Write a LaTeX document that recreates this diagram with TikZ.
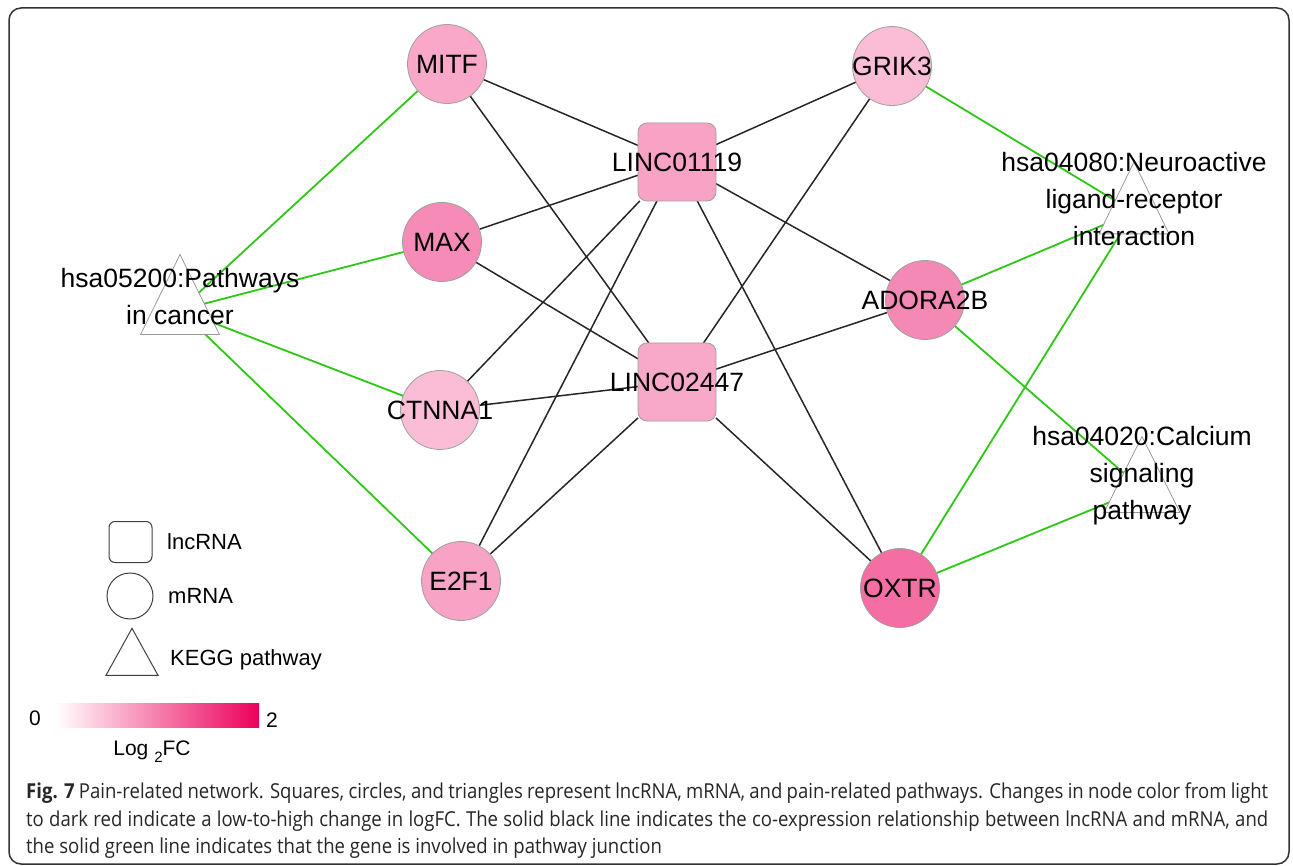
\documentclass[tikz,border=0pt]{standalone}
\usepackage{fontspec}
\setmainfont{Liberation Sans}
\newfontfamily\capfont[FakeStretch=0.9]{Open Sans}
\usetikzlibrary{positioning, shapes.geometric, backgrounds}

\definecolor{linkgreen}{RGB}{45,200,20}
\definecolor{barend}{RGB}{236,0,90}
\definecolor{fillmitf}{RGB}{249,168,201}
\definecolor{fillmax}{RGB}{246,139,183}
\definecolor{fillctnna}{RGB}{250,189,213}
\definecolor{fillefone}{RGB}{248,162,197}
\definecolor{filllone}{RGB}{248,163,198}
\definecolor{flltwo}{RGB}{248,168,201}
\definecolor{fillgrik}{RGB}{251,188,214}
\definecolor{filladora}{RGB}{245,137,182}
\definecolor{filloxtr}{RGB}{244,109,163}

\newcommand\genefont{\fontsize{26.5}{37}\selectfont}
\newcommand\legfont{\fontsize{22}{26}\selectfont}

\begin{document}
\begin{tikzpicture}[x=1pt, y=-1pt,
  gene/.style={circle, draw=gray!75, line width=0.8pt, minimum size=79pt,
    inner sep=0pt, outer sep=0pt, label={[font=\genefont]center:{#1}}},
  lnc/.style={rectangle, rounded corners=9pt, draw=gray!75, line width=0.8pt,
    minimum size=78pt, inner sep=0pt, outer sep=0pt, label={[font=\genefont]center:{#1}}},
  kegg/.style={isosceles triangle, shape border rotate=90, isosceles triangle stretches,
    minimum width=76pt, minimum height=76pt, draw=gray!80, line width=0.8pt,
    inner sep=0pt, outer sep=0pt, label={[font=\genefont, align=center, yshift=13pt]center:{#1}}},
  coexp/.style={draw=black!85, line width=1.5pt},
  inpath/.style={draw=linkgreen, line width=1.8pt},
  legsym/.style={draw=black!75, line width=1pt, inner sep=0pt, outer sep=0pt},
  legtext/.style={font=\legfont, inner sep=0pt, anchor=west},
]
  \useasboundingbox (0,0) rectangle (1293,866);
  % frame
  \draw[black!80, line width=1.5pt, rounded corners=12pt] (9,8) rectangle (1289,864);

  % lncRNA
  \node[lnc={LINC01119}, fill=filllone] (l1119) at (677,162) {};
  \node[lnc={LINC02447}, fill=flltwo] (l2447) at (677,382) {};

  % mRNA
  \node[gene={MITF}, fill=fillmitf] (mitf) at (447,64) {};
  \node[gene={MAX}, fill=fillmax] (maxg) at (442,242) {};
  \node[gene={CTNNA1}, fill=fillctnna] (ctnna) at (440,410) {};
  \node[gene={E2F1}, fill=fillefone] (efone) at (461,581) {};
  \node[gene={GRIK3}, fill=fillgrik] (grik) at (892,66) {};
  \node[gene={ADORA2B}, fill=filladora] (adora) at (925,300) {};
  \node[gene={OXTR}, fill=filloxtr] (oxtr) at (900,588) {};

  % KEGG pathways (centre anchor sits low in the triangle)
  \node[kegg={hsa05200:Pathways\\in cancer}, minimum width=79pt, minimum height=80pt] (p5200) at (180,310) {};
  \node[kegg={hsa04080:Neuroactive\\ligand-receptor\\interaction}, minimum width=70pt, minimum height=72pt] (p4080) at (1134,212) {};
  \node[kegg={hsa04020:Calcium\\signaling\\pathway}] (p4020) at (1142,489) {};

  \begin{scope}[on background layer]
    % co-expression
    \foreach \g in {mitf,maxg,ctnna,efone,grik,adora,oxtr} {
      \draw[coexp] (\g) -- (l1119);
      \draw[coexp] (\g) -- (l2447);
    }
    % pathway membership
    \foreach \g in {mitf,maxg,ctnna,efone}
      \draw[inpath] (p5200) -- (\g);
    \foreach \g in {grik,adora,oxtr}
      \draw[inpath] (p4080) -- (\g);
    \foreach \g in {adora,oxtr}
      \draw[inpath] (p4020) -- (\g);
  \end{scope}

  % legend
  \node[legsym, rectangle, rounded corners=6pt, minimum width=43pt, minimum height=41pt] (lgsq) at (130.5,542) {};
  \node[legtext, right=15pt of lgsq] (lgsqt) {lncRNA};
  \node[legsym, circle, minimum size=46pt] (lgci) at (130,596) {};
  \node[legtext, right=15pt of lgci] (lgcit) {mRNA};
  \node[legsym, isosceles triangle, shape border rotate=90, isosceles triangle stretches,
    minimum width=52pt, minimum height=47pt] (lgtr) at (132,660) {};
  \node[legtext] (lgtrt) at (170,660) {KEGG pathway};

  % colour bar
  \shade[left color=white, right color=barend] (55,703) rectangle (259,727);
  \node[font=\fontsize{21}{24}\selectfont] (cbzero) at (35,718) {0};
  \node[font=\fontsize{21}{24}\selectfont] (cbtwo) at (272,720) {2};
  \node[font=\fontsize{21}{24}\selectfont] (cbname) at (152,752) {Log {\raisebox{-7pt}{\fontsize{15}{15}\selectfont 2}}FC};

  % caption
  \node[anchor=north west, inner sep=0pt, text width=1242pt, align=justify,
    font=\capfont\fontsize{20.6}{27.5}\selectfont, text=black!85] (caption) at (26,783)
    {\textbf{Fig. 7} Pain-related network. Squares, circles, and triangles represent lncRNA, mRNA, and pain-related pathways. Changes in node color from light\linebreak
     to dark red indicate a low-to-high change in logFC. The solid black line indicates the co-expression relationship between lncRNA and mRNA, and\linebreak
     the solid green line indicates that the gene is involved in pathway junction};
\end{tikzpicture}
\end{document}
